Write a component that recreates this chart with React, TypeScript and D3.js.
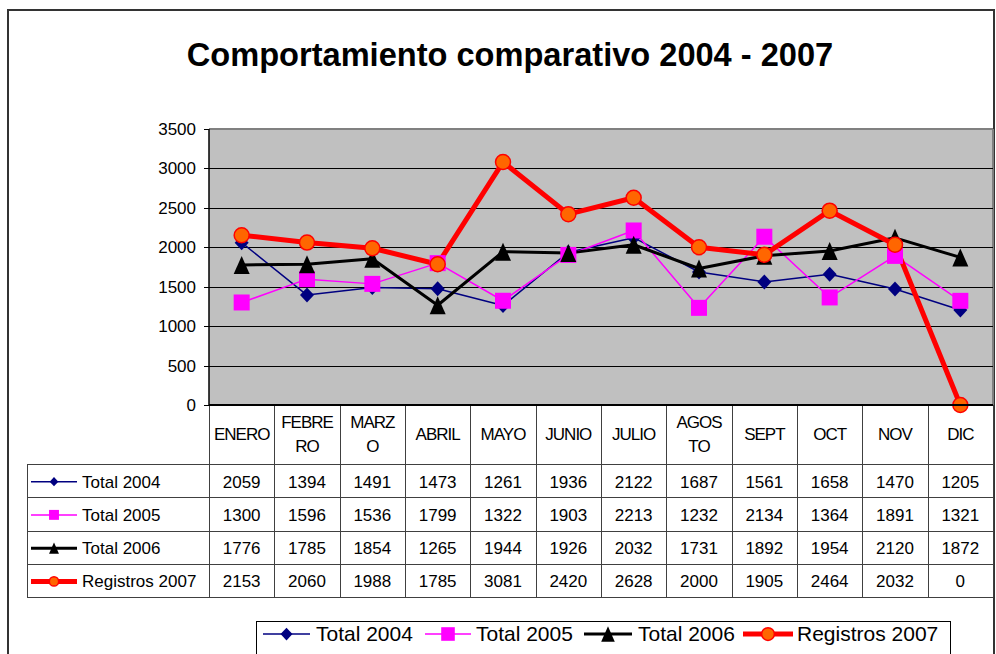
import React from "react";
import * as d3 from "d3";

const months = ["ENERO", "FEBRERO", "MARZO", "ABRIL", "MAYO", "JUNIO", "JULIO", "AGOSTO", "SEPT", "OCT", "NOV", "DIC"];
// category labels as Excel wrapped them in the narrow table columns
const monthLabels = [["ENERO"], ["FEBRE", "RO"], ["MARZ", "O"], ["ABRIL"], ["MAYO"], ["JUNIO"], ["JULIO"], ["AGOS", "TO"], ["SEPT"], ["OCT"], ["NOV"], ["DIC"]];

const total2004 = [2059, 1394, 1491, 1473, 1261, 1936, 2122, 1687, 1561, 1658, 1470, 1205];
const total2005 = [1300, 1596, 1536, 1799, 1322, 1903, 2213, 1232, 2134, 1364, 1891, 1321];
const total2006 = [1776, 1785, 1854, 1265, 1944, 1926, 2032, 1731, 1892, 1954, 2120, 1872];
const registros2007 = [2153, 2060, 1988, 1785, 3081, 2420, 2628, 2000, 1905, 2464, 2032, 0];

const seriesNames = ["Total 2004", "Total 2005", "Total 2006", "Registros 2007"];
const yTicks = [0, 500, 1000, 1500, 2000, 2500, 3000, 3500];

const title = "Comportamiento comparativo 2004 - 2007";

type Marker = "diamond" | "square" | "triangle" | "circle";

const styles: { color: string; width: number; marker: Marker; fill: string }[] = [
	{ color: "#000080", width: 1.5, marker: "diamond", fill: "#000080" },
	{ color: "#FF00FF", width: 1.5, marker: "square", fill: "#FF00FF" },
	{ color: "#000000", width: 3, marker: "triangle", fill: "#000000" },
	{ color: "#FF0000", width: 5, marker: "circle", fill: "#FF6600" },
];

const FONT = "'Liberation Sans', Arial, Helvetica, sans-serif";

const W = 996;
const H = 654;
const plot = { left: 209, right: 993, top: 129, bottom: 405 };
const tableLeft = 27;
const rowH = 33.25;
const tableTop = 464;

function MarkerShape({ type, x, y, fill, stroke, scale = 1 }: { type: Marker; x: number; y: number; fill: string; stroke: string; scale?: number }) {
	if (type === "diamond") {
		const w = 7 * scale;
		const h = 7.5 * scale;
		return <path d={`M${x},${y - h}L${x + w},${y}L${x},${y + h}L${x - w},${y}Z`} fill={fill} />;
	}
	if (type === "square") {
		const s = 8 * scale;
		return <rect x={x - s} y={y - s} width={2 * s} height={2 * s} fill={fill} />;
	}
	if (type === "triangle") {
		const w = 8 * scale;
		const h = 9 * scale;
		return <path d={`M${x},${y - h}L${x + w},${y + h}L${x - w},${y + h}Z`} fill={fill} />;
	}
	return <circle cx={x} cy={y} r={7.5 * scale} fill={fill} stroke={stroke} strokeWidth={1.5} />;
}

export default function App() {
	const data = [total2004, total2005, total2006, registros2007];

	const x = d3.scaleBand<string>().domain(months).range([plot.left, plot.right]).padding(0);
	const y = d3.scaleLinear().domain([0, 3500]).range([plot.bottom, plot.top]);
	const cx = (m: string) => (x(m) as number) + x.bandwidth() / 2;

	const line = d3
		.line<number>()
		.x((_, i) => cx(months[i]))
		.y((d) => y(d));

	const colEdges = months.map((m) => x(m) as number).concat([plot.right]);
	const rowY = (r: number) => Math.round(tableTop + r * rowH) + 0.5;

	return (
		<svg
			width={W}
			height={H}
			style={{ position: "absolute", left: 0, top: 0, background: "#fff", fontFamily: FONT }}
		>
			{/* outer chart frame */}
			<rect x={8} y={10} width={986} height={H} fill="#fff" stroke="#333" strokeWidth={2} />

			<text x={510} y={66} textAnchor="middle" fontSize={32.6} fontWeight="bold" fill="#000">
				{title}
			</text>

			{/* plot area */}
			<rect x={plot.left} y={plot.top} width={plot.right - plot.left} height={plot.bottom - plot.top} fill="#C0C0C0" />
			<line x1={plot.left} x2={plot.right} y1={plot.top} y2={plot.top} stroke="#808080" strokeWidth={2} />
			<line x1={plot.right} x2={plot.right} y1={plot.top} y2={plot.bottom} stroke="#808080" strokeWidth={2} />
			{yTicks.slice(1, -1).map((t) => (
				<line key={t} x1={plot.left} x2={plot.right} y1={Math.round(y(t)) + 0.5} y2={Math.round(y(t)) + 0.5} stroke="#000" strokeWidth={1} />
			))}

			{/* y axis */}
			<line x1={plot.left} x2={plot.left} y1={plot.top} y2={plot.bottom} stroke="#000" strokeWidth={1.5} />
			{yTicks.map((t) => (
				<g key={t}>
					<line x1={plot.left - 5} x2={plot.left} y1={Math.round(y(t)) + 0.5} y2={Math.round(y(t)) + 0.5} stroke="#000" />
					<text x={196} y={y(t)} dy="0.35em" textAnchor="end" fontSize={17} fill="#000">
						{t}
					</text>
				</g>
			))}

			{/* series */}
			{data.map((vals, si) => (
				<path key={`l${si}`} d={line(vals) ?? ""} fill="none" stroke={styles[si].color} strokeWidth={styles[si].width} strokeLinejoin="round" />
			))}
			{data.map((vals, si) => (
				<g key={`m${si}`}>
					{vals.map((v, i) => (
						<MarkerShape key={i} type={styles[si].marker} x={cx(months[i])} y={y(v)} fill={styles[si].fill} stroke={styles[si].color} />
					))}
				</g>
			))}

			{/* data table */}
			<g stroke="#404040" strokeWidth={1}>
				{[0, 1, 2, 3, 4].map((r) => (
					<line key={`h${r}`} x1={tableLeft} x2={plot.right} y1={rowY(r)} y2={rowY(r)} />
				))}
				{colEdges.slice(1).map((e, i) => (
					<line key={`v${i}`} x1={Math.round(e) + 0.5} x2={Math.round(e) + 0.5} y1={plot.bottom} y2={rowY(4)} />
				))}
				<line x1={tableLeft + 0.5} x2={tableLeft + 0.5} y1={tableTop} y2={rowY(4)} />
				<line x1={plot.left + 0.5} x2={plot.left + 0.5} y1={plot.bottom} y2={rowY(4)} />
			</g>
			<line x1={plot.left} x2={plot.right} y1={plot.bottom} y2={plot.bottom} stroke="#000" strokeWidth={2} />

			{monthLabels.map((lines, i) => {
				const mid = (plot.bottom + tableTop) / 2;
				return (
					<text key={months[i]} x={cx(months[i])} textAnchor="middle" fontSize={17} letterSpacing={-1} fill="#000">
						{lines.map((l, li) => (
							<tspan key={li} x={cx(months[i])} y={mid + (li - (lines.length - 1) / 2) * 24} dy="0.35em">
								{l}
							</tspan>
						))}
					</text>
				);
			})}

			{data.map((vals, si) => {
				const rc = tableTop + si * rowH + rowH / 2 + 1;
				const st = styles[si];
				return (
					<g key={`r${si}`}>
						<line x1={31} x2={77} y1={rc} y2={rc} stroke={st.color} strokeWidth={st.width} />
						<MarkerShape type={st.marker} x={54} y={rc} fill={st.fill} stroke={st.color} scale={0.62} />
						<text x={82} y={rc} dy="0.35em" fontSize={17} fill="#000">
							{seriesNames[si]}
						</text>
						{vals.map((v, i) => (
							<text key={i} x={cx(months[i])} y={rc} dy="0.35em" textAnchor="middle" fontSize={17} fill="#000">
								{v}
							</text>
						))}
					</g>
				);
			})}

			{/* legend */}
			<rect x={256.5} y={621.5} width={694} height={60} fill="#fff" stroke="#000" strokeWidth={1} />
			{[
				{ x0: 263, x1: 310, tx: 316 },
				{ x0: 425, x1: 471, tx: 476 },
				{ x0: 584, x1: 632, tx: 638 },
				{ x0: 743, x1: 793, tx: 797 },
			].map((p, si) => {
				const st = styles[si];
				const ly = 634;
				return (
					<g key={`lg${si}`}>
						<line x1={p.x0} x2={p.x1} y1={ly} y2={ly} stroke={st.color} strokeWidth={st.width} />
						<MarkerShape type={st.marker} x={(p.x0 + p.x1) / 2} y={ly} fill={st.fill} stroke={st.color} scale={0.85} />
						<text x={p.tx} y={ly} dy="0.35em" fontSize={21} fill="#000">
							{seriesNames[si]}
						</text>
					</g>
				);
			})}
		</svg>
	);
}
